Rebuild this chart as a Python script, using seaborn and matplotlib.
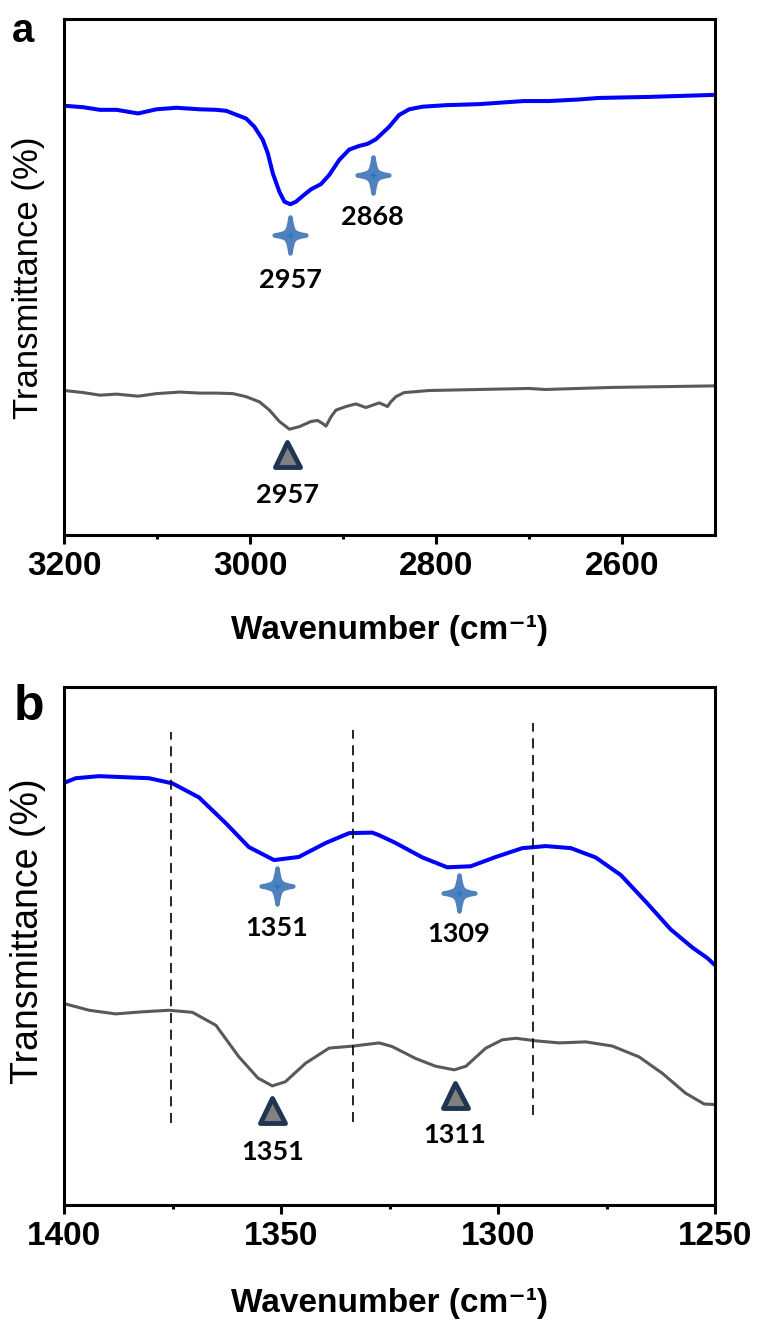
import matplotlib
matplotlib.use("Agg")
import matplotlib.pyplot as plt
from matplotlib.path import Path
from matplotlib.markers import MarkerStyle
import pandas as pd
import seaborn as sns

# ---- panel a: 3200-2500 cm-1 ----
wn_a_blue = [3200, 3179.3, 3161.4, 3143.5, 3120.3, 3100.6, 3079.2, 3054.2, 3036.3, 3025.5,
             3018.4, 3004.1, 2995.2, 2986.3, 2980.9, 2975.5, 2968.4, 2963.0, 2956.6, 2950.5,
             2943.4, 2934.4, 2923.7, 2914.7, 2904.0, 2893.3, 2882.6, 2873.6, 2864.6, 2850.4,
             2839.7, 2828.9, 2814.7, 2789.6, 2753.9, 2705.6, 2678.8, 2646.7, 2625.2, 2571.6, 2500]
tr_a_blue = [83.2, 82.9, 82.4, 82.4, 81.7, 82.5, 82.8, 82.5, 82.4, 82.2,
             81.7, 80.7, 79.1, 76.6, 74.0, 70.1, 66.5, 64.6, 64.1, 64.6,
             65.7, 67.0, 68.0, 69.8, 72.7, 74.7, 75.4, 75.8, 76.7, 79.1,
             81.4, 82.5, 83.0, 83.3, 83.5, 84.1, 84.1, 84.4, 84.7, 84.9, 85.3]

wn_a_gray = [3200, 3179.3, 3161.4, 3143.5, 3120.3, 3100.6, 3075.6, 3054.2, 3036.3, 3018.4,
             3004.1, 2989.8, 2979.1, 2968.4, 2957.6, 2946.9, 2934.4, 2927.3, 2921.9, 2918.3,
             2912.9, 2907.6, 2896.8, 2886.1, 2875.4, 2861.1, 2855.8, 2852.2, 2848.6, 2843.2,
             2834.3, 2807.5, 2753.9, 2700.3, 2682.4, 2610.9, 2500]
tr_a_gray = [28.0, 27.6, 27.1, 27.3, 26.9, 27.4, 27.7, 27.5, 27.5, 27.4,
             26.8, 25.8, 24.2, 22.0, 20.5, 21.0, 22.0, 22.2, 21.6, 21.1,
             22.9, 24.2, 24.9, 25.4, 24.7, 25.6, 25.2, 24.9, 25.8, 26.8,
             27.6, 28.0, 28.2, 28.4, 28.2, 28.6, 28.9]

star_a_x = [2957, 2868]
star_a_y = [58.1, 69.8]
star_a_lbl = ["2957", "2868"]
star_a_lbl_y = [49.4, 61.6]
tri_a_x = [2960]
tri_a_y = [15.7]
tri_a_lbl = ["2957"]
tri_a_lbl_y = [7.8]

# ---- panel b: 1400-1250 cm-1 ----
wn_b_blue = [1400, 1397.3, 1391.9, 1380.4, 1375.0, 1368.9, 1362.7, 1357.4, 1351.6, 1345.9,
             1339.7, 1334.3, 1329.0, 1327.4, 1323.6, 1317.4, 1311.7, 1306.3, 1300.5, 1294.4,
             1289.0, 1283.2, 1277.5, 1271.7, 1266.0, 1260.2, 1255.2, 1251.8, 1250]
tr_b_blue = [81.5, 82.4, 82.8, 82.4, 81.4, 78.7, 73.7, 69.1, 66.6, 67.2,
             69.9, 71.8, 71.9, 71.4, 69.9, 67.1, 65.2, 65.4, 67.2, 68.9,
             69.3, 68.9, 67.1, 63.7, 58.6, 53.2, 49.7, 47.7, 46.3]

wn_b_gray = [1400, 1394.2, 1388.1, 1382.0, 1375.8, 1370.4, 1365.0, 1359.7, 1355.3, 1352.0,
             1349.0, 1344.3, 1338.9, 1333.2, 1327.4, 1324.4, 1319.0, 1314.4, 1310.1, 1307.4,
             1302.8, 1299.0, 1295.9, 1291.3, 1285.9, 1279.8, 1273.7, 1267.5, 1262.1, 1256.8,
             1252.5, 1250]
tr_b_gray = [38.9, 37.6, 36.9, 37.3, 37.6, 37.2, 34.7, 28.6, 24.5, 23.0,
             23.8, 27.4, 30.3, 30.7, 31.3, 30.6, 28.3, 26.8, 26.1, 26.8,
             30.3, 31.9, 32.2, 31.7, 31.3, 31.5, 30.7, 28.6, 25.4, 21.6,
             19.5, 19.4]

star_b_x = [1351, 1309]
star_b_y = [61.6, 60.2]
star_b_lbl = ["1351", "1309"]
star_b_lbl_y = [53.5, 52.3]
tri_b_x = [1352, 1310]
tri_b_y = [18.3, 21.2]
tri_b_lbl = ["1351", "1311"]
tri_b_lbl_y = [10.3, 13.5]

dash_x = [1375.3, 1333.4, 1292.0]
dash_ymin = [15.8, 16.0, 17.3]
dash_ymax = [91.3, 91.7, 93.0]

sns.set_style("white")
plt.rcParams['font.family'] = ['Liberation Sans', 'DejaVu Sans']
plt.rcParams['text.color'] = 'black'
plt.rcParams['axes.labelcolor'] = 'black'
plt.rcParams['xtick.color'] = 'black'

BLUE = "#0000ff"
GRAY = "#595959"
STAR_C = "#4f81bd"
ANN_FONT = ['Lato', 'DejaVu Sans']

# four-point sparkle marker
c = 0.14
sv = [(0, 1), (c, c), (c, c), (0.88, 0),
      (c, -c), (c, -c), (0, -1),
      (-c, -c), (-c, -c), (-0.88, 0),
      (-c, c), (-c, c), (0, 1), (0, 1)]
sc = [Path.MOVETO] + [Path.CURVE4] * 12 + [Path.CLOSEPOLY]
sparkle = MarkerStyle(Path(sv, sc), joinstyle='round')
tri = MarkerStyle('^', joinstyle='round')

fig = plt.figure(figsize=(7.61, 13.2), dpi=100)
ax_a = fig.add_axes([0.0841, 0.5947, 0.8555, 0.3909])
ax_b = fig.add_axes([0.0841, 0.0871, 0.8555, 0.3924])


def draw_panel(ax, wb, tb, wg, tg, sx, sy, slbl, sly, tx, ty, tlbl, tly):
    df_b = pd.DataFrame({"wn": wb, "tr": tb})
    df_g = pd.DataFrame({"wn": wg, "tr": tg})
    sns.lineplot(data=df_b, x="wn", y="tr", ax=ax, color=BLUE, lw=2.9, sort=False)
    sns.lineplot(data=df_g, x="wn", y="tr", ax=ax, color=GRAY, lw=2.2, sort=False)
    ax.plot(sx, sy, ls='none', marker=sparkle, ms=26, mfc=STAR_C, mec=STAR_C, mew=3.2)
    ax.plot(sx, sy, ls='none', marker='+', ms=5, mec="#1a74d0", mew=1.0)
    for x, y, s in zip(sx, sly, slbl):
        ax.text(x, y, s, ha='center', va='center', fontsize=19.5, fontweight='bold',
                family=ANN_FONT)
    ax.plot(tx, ty, ls='none', marker=tri, ms=18, mfc="#808080", mec="#1f3652", mew=3.5)
    for x, y, s in zip(tx, tly, tlbl):
        ax.text(x, y, s, ha='center', va='center', fontsize=19.5, fontweight='bold',
                family=ANN_FONT)
    ax.set_ylim(0, 100)
    ax.set_yticks([])
    for sp in ax.spines.values():
        sp.set_linewidth(2.2)
        sp.set_color("black")
    ax.tick_params(axis='x', which='major', direction='out', length=6.5, width=2.2,
                   pad=5, labelsize=24, bottom=True)
    ax.tick_params(axis='x', which='minor', direction='out', length=3, width=2.2, bottom=True)


draw_panel(ax_a, wn_a_blue, tr_a_blue, wn_a_gray, tr_a_gray,
           star_a_x, star_a_y, star_a_lbl, star_a_lbl_y, tri_a_x, tri_a_y, tri_a_lbl, tri_a_lbl_y)
ax_a.set_xlim(3200, 2500)
ax_a.set_xticks([3200, 3000, 2800, 2600])
ax_a.set_xticks([3100, 2900, 2700], minor=True)

draw_panel(ax_b, wn_b_blue, tr_b_blue, wn_b_gray, tr_b_gray,
           star_b_x, star_b_y, star_b_lbl, star_b_lbl_y, tri_b_x, tri_b_y, tri_b_lbl, tri_b_lbl_y)
ax_b.set_xlim(1400, 1250)
ax_b.set_xticks([1400, 1350, 1300, 1250])
ax_b.set_xticks([1375, 1325, 1275], minor=True)
for x, y0, y1 in zip(dash_x, dash_ymin, dash_ymax):
    ax_b.vlines(x, y0, y1, colors="black", lw=1.2, linestyles=(0, (6, 4)))

for ax in (ax_a, ax_b):
    for lab in ax.get_xticklabels():
        lab.set_fontweight('bold')
    ax.set_xlabel("Wavenumber (cm\u207b\u00b9)", fontsize=24, fontweight='bold')

ax_a.xaxis.set_label_coords(0.5, -0.155)
ax_b.xaxis.set_label_coords(0.5, -0.16)
ax_a.set_ylabel("Transmittance (%)", fontsize=25, va='center')
ax_b.set_ylabel("Transmittance (%)", fontsize=27, va='center')
ax_a.yaxis.set_label_coords(-0.055, 0.498)
ax_b.yaxis.set_label_coords(-0.055, 0.529)

fig.text(12 / 761, 1 - 42 / 1320, "a", fontsize=29, fontweight='bold', va='baseline')
fig.text(14 / 761, 1 - 720 / 1320, "b", fontsize=36, fontweight='bold', va='baseline')

fig.savefig("out.png", dpi=100)
